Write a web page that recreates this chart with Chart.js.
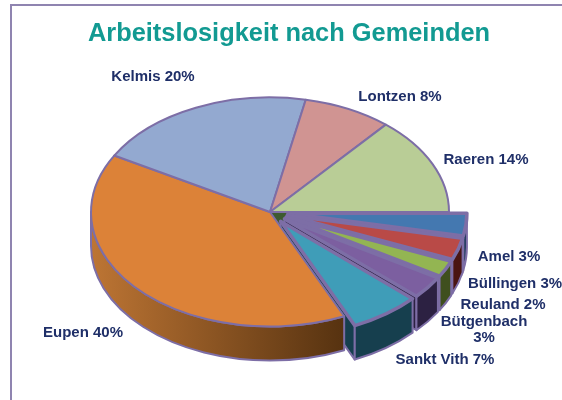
<!DOCTYPE html>
<html>
<head>
<meta charset="utf-8">
<title>Arbeitslosigkeit nach Gemeinden</title>
<script src="https://cdn.jsdelivr.net/npm/chart.js@4"></script>
<style>
  html, body { margin:0; padding:0; background:#fff; }
  #wrap { position:relative; width:562px; height:400px; overflow:hidden; }
  #frame { position:absolute; left:10px; top:4px; width:600px; height:500px; border:2px solid #8f84b0; box-sizing:border-box; }
  canvas { position:absolute; left:0; top:0; filter:blur(0.45px); }
</style>
</head>
<body>
<div id="wrap">
  <div id="frame"></div>
  <canvas id="c" width="562" height="400"></canvas>
</div>
<script>
// ── Data ──────────────────────────────────────────────────────────────────────
const gemeinden = ['Amel','Büllingen','Reuland','Bütgenbach','Sankt Vith','Eupen','Kelmis','Lontzen','Raeren'];
// the printed labels are these rounded
const anteile   = [3.2, 3.1, 2.3, 3.2, 6.4, 40, 20, 8, 13.8];
const pulled    = [true, true, true, true, true, false, false, false, false];

const topColors  = ['#4478b0','#b94a47','#93b552','#7c5fa0','#3f9db8','#dc8238','#93a9d0','#d09492','#b9cd96'];
const wallColors = ['#1f3b5c','#4a1512','#3f4f1e','#2c2142','#163f4e','#b97232','#4a5a7c','#6e4040','#3d5a30'];

// label centres, [x, y] per line
const labelPos = [
  [[509,256.5]], [[515,283.5]], [[503,304.5]], [[484,321.5],[484,337.5]], [[445,359.5]],
  [[83,332.5]], [[153,76.5]], [[400,96.5]], [[486,160]]
];
const labelLines = [
  ['Amel 3%'], ['Büllingen 3%'], ['Reuland 2%'], ['Bütgenbach','3%'], ['Sankt Vith 7%'],
  ['Eupen 40%'], ['Kelmis 20%'], ['Lontzen 8%'], ['Raeren 14%']
];

// ── Fake 3D pie ───────────────────────────────────────────────────────────────
const CX = 270, CY = 212, SQUASH = 0.64, DEPTH = 34, EDGE = '#7d6ea6', PULL = 18;

function arcCenter(arc) {
  const off = arc.options.offset || 0, mid = (arc.startAngle + arc.endAngle) / 2;
  return [CX + Math.cos(mid) * off, CY + Math.sin(mid) * off * SQUASH];
}

function drawWall(ctx, arc, i) {
  const a0 = Math.max(arc.startAngle, 0), a1 = Math.min(arc.endAngle, Math.PI);
  if (a1 <= a0) return;
  const [x, y] = arcCenter(arc), r = arc.outerRadius, ry = r * SQUASH;
  ctx.beginPath();
  ctx.ellipse(x, y, r, ry, 0, a0, a1);
  ctx.ellipse(x, y + DEPTH, r, ry, 0, a1, a0, true);
  ctx.closePath();
  if (i === 5) {
    const g = ctx.createLinearGradient(CX - r, 0, CX + 75, 0);
    g.addColorStop(0, '#bd7534'); g.addColorStop(1, '#563210');
    ctx.fillStyle = g;
  } else {
    ctx.fillStyle = wallColors[i];
  }
  ctx.fill();
  ctx.lineWidth = 2; ctx.strokeStyle = EDGE; ctx.stroke();
}

// the flat side of a slice, a is the edge angle
function drawCutFace(ctx, arc, i, a, stroke) {
  const [x, y] = arcCenter(arc), r = arc.outerRadius;
  const ex = x + Math.cos(a) * r, ey = y + Math.sin(a) * r * SQUASH;
  ctx.beginPath();
  ctx.moveTo(x, y); ctx.lineTo(ex, ey); ctx.lineTo(ex, ey + DEPTH); ctx.lineTo(x, y + DEPTH);
  ctx.closePath();
  ctx.fillStyle = wallColors[i]; ctx.fill();
  if (stroke) { ctx.lineWidth = 2; ctx.strokeStyle = EDGE; ctx.stroke(); }
}

// angles and radius come from the arc element, the squash makes it an ellipse
function drawTop(ctx, arc, i, width) {
  const [x, y] = arcCenter(arc), r = arc.outerRadius;
  ctx.beginPath();
  ctx.moveTo(x, y);
  ctx.ellipse(x, y, r, r * SQUASH, 0, arc.startAngle, arc.endAngle);
  ctx.closePath();
  ctx.fillStyle = topColors[i]; ctx.fill();
  ctx.lineWidth = width; ctx.lineJoin = 'round'; ctx.strokeStyle = EDGE; ctx.stroke();
}

const pie3d = {
  id: 'pie3d',
  beforeDatasetDraw(chart) {
    const ctx = chart.ctx, arcs = chart.getDatasetMeta(0).data;
    // Raeren's side shows through the hole the pulled slices leave
    drawCutFace(ctx, arcs[8], 8, arcs[8].endAngle, false);
    // pulled slices first, back to front, the rest goes over their cut faces
    arcs.forEach((arc, i) => {
      if (!pulled[i]) return;
      drawCutFace(ctx, arc, i, arc.endAngle, true);
      drawWall(ctx, arc, i);
      drawTop(ctx, arc, i, 3.5);
    });
    arcs.forEach((arc, i) => { if (!pulled[i]) drawWall(ctx, arc, i); });
    arcs.forEach((arc, i) => { if (!pulled[i]) drawTop(ctx, arc, i, 2); });
    return false;
  },
  afterDraw(chart) {
    const ctx = chart.ctx;
    ctx.save();
    ctx.font = 'bold 15px "Liberation Sans", Arial, sans-serif';
    ctx.fillStyle = '#1f2f68'; ctx.textAlign = 'center'; ctx.textBaseline = 'middle';
    labelLines.forEach((lines, i) => {
      lines.forEach((txt, k) => ctx.fillText(txt, labelPos[i][k][0], labelPos[i][k][1]));
    });
    ctx.restore();
  }
};

new Chart(document.getElementById('c'), {
  type: 'pie',
  plugins: [pie3d],
  data: {
    labels: gemeinden,
    datasets: [{
      data: anteile,
      backgroundColor: topColors,
      borderColor: EDGE,
      borderWidth: 2,
      offset: pulled.map(p => p ? PULL : 0)
    }]
  },
  options: {
    responsive: false,
    animation: false,
    rotation: 90,
    radius: 179,
    layout: { padding: { left: 16, top: 19 } },
    plugins: {
      legend: { display: false },
      tooltip: { enabled: false },
      title: {
        display: true,
        text: 'Arbeitslosigkeit nach Gemeinden',
        color: '#129a92',
        font: { family: '"Liberation Sans", Arial, sans-serif', size: 25.4, weight: 'bold' },
        padding: 0
      }
    }
  }
});
</script>
</body>
</html>
